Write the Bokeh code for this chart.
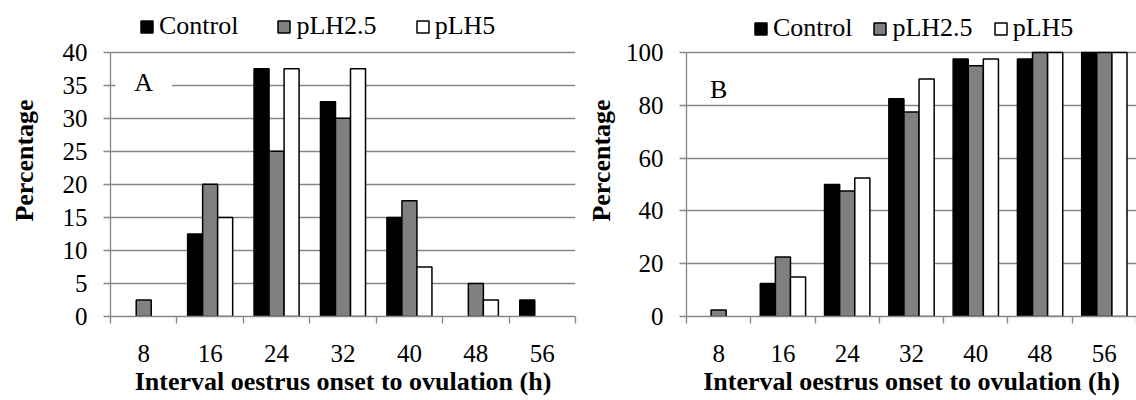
from bokeh.plotting import figure
from bokeh.layouts import row
from bokeh.models import Range1d, FixedTicker, Legend, LegendItem, Label, ColumnDataSource
from bokeh.embed import file_html
from bokeh.resources import INLINE

# ---- data ----
hours = [8, 16, 24, 32, 40, 48, 56]
hour_labels = ["8", "16", "24", "32", "40", "48", "56"]
series_names = ["Control", "pLH2.5", "pLH5"]

a_control = [0, 12.5, 37.5, 32.5, 15, 0, 2.5]
a_plh25 = [2.5, 20, 25, 30, 17.5, 5, 0]
a_plh5 = [0, 15, 37.5, 37.5, 7.5, 2.5, 0]

b_control = [0, 12.5, 50, 82.5, 97.5, 97.5, 100]
b_plh25 = [2.5, 22.5, 47.5, 77.5, 95, 100, 100]
b_plh5 = [0, 15, 52.5, 90, 97.5, 100, 100]

a_yticks = [0, 5, 10, 15, 20, 25, 30, 35, 40]
b_yticks = [0, 20, 40, 60, 80, 100]

# ---- style ----
FONT = "Liberation Serif"
GRID = "#868686"
fills = ["#000000", "#808080", "#ffffff"]

HEIGHT = 400
FRAME_TOP = 4          # frame extends up to hold the legend
PLOT_TOP = 52          # pixel row of the top of the value axis
LEGEND_BOTTOM = 43     # pixel row of the legend's lower edge


def make_panel(series, yticks, ymax, letter, letter_y, letter_bg, width,
               border_left, border_right, border_bottom,
               bar_w, legend_x, legend_spacing, title_standoff):
    n = len(hours)
    frame_bottom = HEIGHT - border_bottom
    frame_h = frame_bottom - FRAME_TOP
    y_end = ymax * frame_h / (frame_bottom - PLOT_TOP)
    p = figure(width=width, height=HEIGHT, output_backend="svg",
               toolbar_location=None, x_range=Range1d(0, n),
               y_range=Range1d(0, y_end),
               min_border_left=border_left, min_border_right=border_right,
               min_border_top=FRAME_TOP, min_border_bottom=border_bottom)
    p.outline_line_color = None
    p.background_fill_color = "white"
    p.border_fill_color = "white"

    centers = [i + 0.5 for i in range(n)]
    bounds = [float(i) for i in range(n + 1)]

    # x axis
    xa = p.xaxis[0]
    xa.ticker = FixedTicker(ticks=centers, minor_ticks=bounds)
    xa.major_label_overrides = {c: lab for c, lab in zip(centers, hour_labels)}
    xa.axis_line_color = GRID
    xa.axis_line_width = 1.3
    xa.major_tick_line_color = None
    xa.major_tick_out = 0
    xa.major_tick_in = 0
    xa.minor_tick_line_color = GRID
    xa.minor_tick_line_width = 1.3
    xa.minor_tick_out = 7
    xa.minor_tick_in = 0
    xa.major_label_text_font = FONT
    xa.major_label_text_font_size = "25px"
    xa.major_label_text_color = "black"
    xa.major_label_standoff = 21
    xa.axis_label = "Interval oestrus onset to ovulation (h)"
    xa.axis_label_text_font = FONT
    xa.axis_label_text_font_size = "26px"
    xa.axis_label_text_font_style = "bold"
    xa.axis_label_text_color = "black"
    xa.axis_label_standoff = 2

    # y axis
    ya = p.yaxis[0]
    ya.ticker = FixedTicker(ticks=yticks)
    ya.bounds = (0, ymax)
    ya.axis_line_color = GRID
    ya.axis_line_width = 1.3
    ya.major_tick_line_color = GRID
    ya.major_tick_line_width = 1.3
    ya.major_tick_out = 7
    ya.major_tick_in = 0
    ya.minor_tick_line_color = None
    ya.major_label_text_font = FONT
    ya.major_label_text_font_size = "25px"
    ya.major_label_text_color = "black"
    ya.major_label_standoff = 16
    ya.axis_label = "Percentage"
    ya.axis_label_text_font = FONT
    ya.axis_label_text_font_size = "26px"
    ya.axis_label_text_font_style = "bold"
    ya.axis_label_text_color = "black"
    ya.axis_label_standoff = title_standoff

    p.xgrid.visible = False
    p.ygrid.ticker = FixedTicker(ticks=yticks)
    p.ygrid.grid_line_color = GRID
    p.ygrid.grid_line_width = 1.3

    items = []
    offsets = [-bar_w, 0.0, bar_w]
    for vals, name, fill, off in zip(series, series_names, fills, offsets):
        xs = [c + off for c, v in zip(centers, vals) if v > 0]
        tops = [v for v in vals if v > 0]
        src = ColumnDataSource(dict(x=xs, top=tops))
        r = p.vbar(x="x", top="top", bottom=0, width=bar_w, source=src,
                   fill_color=fill, line_color="black", line_width=1.5)
        items.append(LegendItem(label=name, renderers=[r]))

    legend = Legend(items=items, location=(legend_x, frame_bottom - LEGEND_BOTTOM),
                    orientation="horizontal", glyph_width=15, glyph_height=15,
                    label_standoff=5, spacing=legend_spacing, padding=0, margin=0,
                    border_line_color=None, background_fill_alpha=0,
                    label_text_font=FONT, label_text_font_size="26px",
                    label_text_color="black")
    p.add_layout(legend)

    if letter_bg:
        lab = Label(x=0.5, y=letter_y, text=letter, text_align="center",
                    text_baseline="middle", text_font=FONT, text_font_size="26px",
                    text_color="black", background_fill_color="white",
                    padding=dict(left=19, right=19, top=2, bottom=2))
    else:
        lab = Label(x=0.5, y=letter_y, text=letter, text_align="center",
                    text_baseline="middle", text_font=FONT, text_font_size="26px",
                    text_color="black")
    p.add_layout(lab)
    return p


pa = make_panel([a_control, a_plh25, a_plh5], a_yticks, 40, "A", 35.4, True,
                width=583, border_left=110, border_right=8, border_bottom=82,
                bar_w=0.226, legend_x=29, legend_spacing=38, title_standoff=21)
pb = make_panel([b_control, b_plh25, b_plh5], b_yticks, 100, "B", 86, False,
                width=553, border_left=98, border_right=0, border_bottom=84,
                bar_w=0.235, legend_x=67, legend_spacing=20, title_standoff=7)

layout = row(pa, pb)
open("out.html", "w").write(file_html(layout, INLINE))
